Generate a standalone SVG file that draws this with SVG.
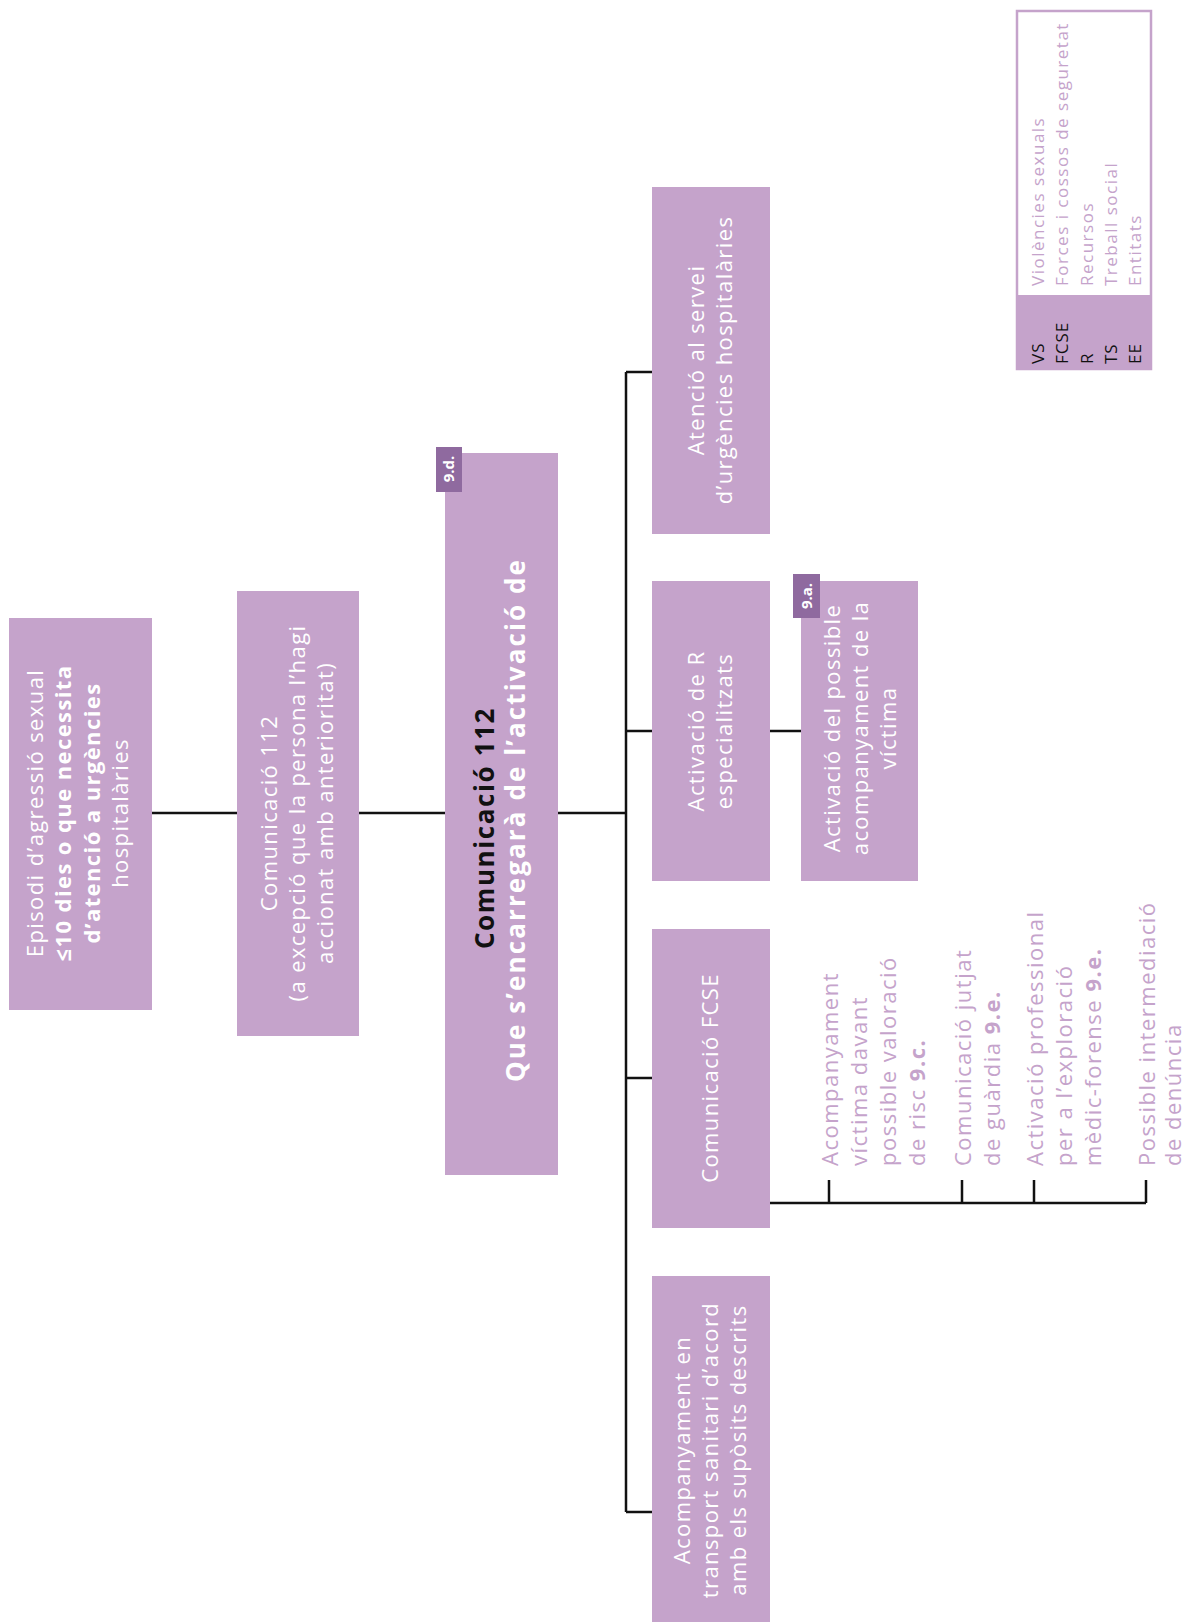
<svg xmlns="http://www.w3.org/2000/svg" width="1186" height="1622" viewBox="0 0 1186 1622">
<style>
.box{fill:#c5a3cb}
.tag{fill:#8f6a9f}
.t{font-family:"Open Sans","Noto Sans",sans-serif;font-size:22px;font-weight:400;letter-spacing:1.4px;fill:#ffffff}
.b{font-weight:700}
.c{font-family:"Open Sans","Noto Sans",sans-serif;font-size:26px;font-weight:700;letter-spacing:1.6px}
.s{font-family:"Open Sans","Noto Sans",sans-serif;font-size:22px;font-weight:400;letter-spacing:1.5px;fill:#c5a3cb}
.lg{font-family:"Open Sans","Noto Sans",sans-serif;font-size:17px;font-weight:400;letter-spacing:1.5px;fill:#c5a3cb}
.la{font-family:"Open Sans","Noto Sans",sans-serif;font-size:17px;font-weight:400;letter-spacing:1px;fill:#111111}
.tg{font-family:"Open Sans","Noto Sans",sans-serif;font-size:15px;font-weight:700;fill:#ffffff}
.ln{stroke:#111111;stroke-width:2.5;fill:none}
</style>
<rect width="1186" height="1622" fill="#ffffff"/>
<g id="connectors">
<path class="ln" d="M152 813H237M359 813H445M558 813H626M626 372V1512M626 372H652M626 731H652M626 1078H652M626 1512H652M770 731H801"/>
<path class="ln" d="M770 1203H1146M829 1180V1203M962 1180V1203M1034 1180V1203M1146 1180V1203"/>
</g>
<g id="legend">
<rect x="1017" y="11" width="134" height="358" fill="#ffffff" stroke="#c5a3cb" stroke-width="2.5"/>
<rect x="1017" y="295" width="134" height="74" fill="#c5a3cb"/>
<text class="la" transform="rotate(-90)"><tspan x="-364" y="1044">VS</tspan><tspan x="-364" y="1068">FCSE</tspan><tspan x="-364" y="1093">R</tspan><tspan x="-364" y="1117">TS</tspan><tspan x="-364" y="1141">EE</tspan></text>
<text class="lg" transform="rotate(-90)"><tspan x="-286" y="1044">Violències sexuals</tspan><tspan x="-286" y="1068">Forces i cossos de seguretat</tspan><tspan x="-286" y="1093">Recursos</tspan><tspan x="-286" y="1117">Treball social</tspan><tspan x="-286" y="1141">Entitats</tspan></text>
</g>
<g id="n1">
<rect class="box" x="9" y="618" width="143" height="392"/>
<text class="t" transform="rotate(-90)" text-anchor="middle"><tspan x="-813" y="43">Episodi d’agressió sexual</tspan><tspan class="b" x="-813" y="71">≤10 dies o que necessita</tspan><tspan class="b" x="-813" y="100">d’atenció a urgències</tspan><tspan x="-813" y="128">hospitalàries</tspan></text>
</g>
<g id="n2">
<rect class="box" x="237" y="591" width="122" height="445"/>
<text class="t" transform="rotate(-90)" text-anchor="middle"><tspan x="-813" y="277">Comunicació 112</tspan><tspan x="-813" y="305">(a excepció que la persona l’hagi</tspan><tspan x="-813" y="333">accionat amb anterioritat)</tspan></text>
</g>
<g id="n3">
<rect class="box" x="445" y="453" width="113" height="722"/>
<rect class="tag" x="436" y="447" width="26" height="45"/>
<text class="tg" transform="rotate(-90)" text-anchor="middle"><tspan x="-469" y="454">9.d.</tspan></text>
<text class="c" transform="rotate(-90)" text-anchor="middle"><tspan x="-828" y="494" fill="#111111">Comunicació 112</tspan><tspan x="-820" y="525" fill="#ffffff" letter-spacing="2.1">Que s’encarregarà de l’activació de</tspan></text>
</g>
<g id="n4">
<rect class="box" x="652" y="187" width="118" height="347"/>
<text class="t" transform="rotate(-90)" text-anchor="middle"><tspan x="-360" y="704">Atenció al servei</tspan><tspan x="-360" y="732">d’urgències hospitalàries</tspan></text>
</g>
<g id="n5">
<rect class="box" x="652" y="581" width="118" height="300"/>
<text class="t" transform="rotate(-90)" text-anchor="middle"><tspan x="-731" y="704">Activació de R</tspan><tspan x="-731" y="732">especialitzats</tspan></text>
</g>
<g id="n6">
<rect class="box" x="801" y="581" width="117" height="300"/>
<rect class="tag" x="793" y="574" width="27" height="44"/>
<text class="tg" transform="rotate(-90)" text-anchor="middle"><tspan x="-596" y="812">9.a.</tspan></text>
<text class="t" transform="rotate(-90)" text-anchor="middle"><tspan x="-728" y="840">Activació del possible</tspan><tspan x="-728" y="868">acompanyament de la</tspan><tspan x="-728" y="896">víctima</tspan></text>
</g>
<g id="n7">
<rect class="box" x="652" y="929" width="118" height="299"/>
<text class="t" transform="rotate(-90)" text-anchor="middle"><tspan x="-1078" y="718">Comunicació FCSE</tspan></text>
</g>
<g id="n8">
<rect class="box" x="652" y="1276" width="118" height="346"/>
<text class="t" transform="rotate(-90)" text-anchor="middle"><tspan x="-1450" y="690">Acompanyament en</tspan><tspan x="-1450" y="718">transport sanitari d’acord</tspan><tspan x="-1450" y="746">amb els supòsits descrits</tspan></text>
</g>
<g id="s1">
<text class="s" transform="rotate(-90)"><tspan x="-1166" y="838">Acompanyament</tspan><tspan x="-1166" y="867">víctima davant</tspan><tspan x="-1166" y="896">possible valoració</tspan><tspan x="-1166" y="925">de risc <tspan class="b">9.c.</tspan></tspan></text>
</g>
<g id="s2">
<text class="s" transform="rotate(-90)"><tspan x="-1166" y="971">Comunicació jutjat</tspan><tspan x="-1166" y="1000">de guàrdia <tspan class="b">9.e.</tspan></tspan></text>
</g>
<g id="s3">
<text class="s" transform="rotate(-90)"><tspan x="-1166" y="1043">Activació professional</tspan><tspan x="-1166" y="1072">per a l’exploració</tspan><tspan x="-1166" y="1101">mèdic-forense <tspan class="b">9.e.</tspan></tspan></text>
</g>
<g id="s4">
<text class="s" transform="rotate(-90)"><tspan x="-1166" y="1155">Possible intermediació</tspan><tspan x="-1166" y="1181">de denúncia</tspan></text>
</g>
</svg>
